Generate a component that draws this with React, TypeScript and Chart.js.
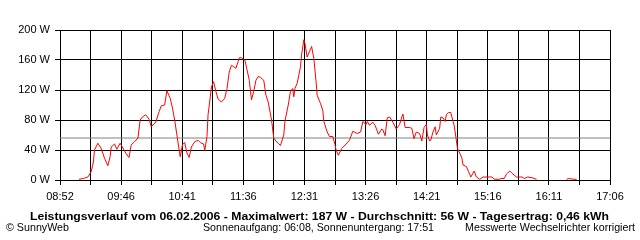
import React, { useEffect, useRef } from "react";
import { Chart, registerables } from "chart.js";

Chart.register(...registerables);

// X axis tick labels (every second grid line)
const tickLabels = ["08:52", "09:46", "10:41", "11:36", "12:31", "13:26", "14:21", "15:16", "16:11", "17:06"];
const yTickValues = [0, 40, 80, 120, 160, 200];

// Measurement times (HH:MM) and power in W
const times = [
  "09:09", "09:13", "09:17", "09:20", "09:22", "09:23", "09:26", "09:29", "09:32", "09:35",
  "09:37", "09:38", "09:41", "09:43", "09:46", "09:48", "09:51", "09:54", "09:56", "09:59",
  "10:02", "10:04", "10:06", "10:09", "10:12", "10:14", "10:18", "10:21", "10:23", "10:26",
  "10:28", "10:31", "10:33", "10:35", "10:37", "10:39", "10:40", "10:42", "10:44", "10:46",
  "10:48", "10:50", "10:53", "10:56", "10:58", "11:01", "11:02", "11:04", "11:05", "11:07",
  "11:08", "11:10", "11:12", "11:14", "11:17", "11:20", "11:22", "11:24", "11:26", "11:28",
  "11:30", "11:32", "11:33", "11:35", "11:38", "11:40", "11:42", "11:44", "11:46", "11:48",
  "11:50", "11:52", "11:55", "11:57", "11:59", "12:02", "12:04", "12:06", "12:08", "12:10",
  "12:13", "12:14", "12:17", "12:19", "12:21", "12:22", "12:23", "12:25", "12:26", "12:28",
  "12:29", "12:31", "12:32", "12:34", "12:36", "12:38", "12:40", "12:42", "12:43", "12:46",
  "12:48", "12:49", "12:52", "12:54", "12:57", "12:59", "13:00", "13:02", "13:05", "13:09",
  "13:12", "13:15", "13:19", "13:22", "13:24", "13:27", "13:28", "13:30", "13:33", "13:35",
  "13:38", "13:41", "13:42", "13:44", "13:46", "13:48", "13:51", "13:54", "13:57", "13:59",
  "14:00", "14:02", "14:06", "14:08", "14:10", "14:12", "14:15", "14:17", "14:19", "14:21",
  "14:22", "14:24", "14:25", "14:27", "14:29", "14:30", "14:33", "14:34", "14:36", "14:38",
  "14:39", "14:41", "14:43", "14:45", "14:46", "14:48", "14:49", "14:51", "14:53", "14:54",
  "14:57", "14:59", "15:01", "15:04", "15:06", "15:09", "15:12", "15:20", "15:22", "15:27",
  "15:28", "15:31", "15:33", "15:36", "15:38", "15:42", "15:47", "15:49", "15:52", "15:56",
  "16:00", "16:10", "16:27", "16:29", "16:33", "16:36",
];
const watts: (number | null)[] = [
  1, 2, 4, 11, 24, 40, 49, 42, 29, 19,
  31, 44, 48, 41, 49, 44, 36, 30, 47, 51,
  56, 80, 84, 87, 81, 71, 77, 91, 99, 100,
  119, 109, 96, 80, 60, 40, 31, 47, 50, 36,
  30, 44, 51, 53, 50, 48, 39, 58, 87, 111,
  124, 131, 118, 108, 104, 109, 122, 144, 153, 151,
  149, 158, 163, 163, 160, 147, 133, 107, 118, 133,
  138, 137, 133, 113, 104, 80, 56, 52, 49, 46,
  60, 78, 100, 118, 122, 111, 122, 129, 136, 151,
  167, 187, 182, 164, 171, 178, 162, 131, 113, 102,
  93, 78, 64, 58, 58, 47, 40, 33, 42, 48,
  53, 65, 62, 64, 78, 74, 78, 73, 77, 73,
  61, 68, 67, 59, 83, 84, 77, 68, 74, 84,
  88, 70, 70, 69, 55, 64, 62, 52, 70, 74,
  60, 52, 53, 64, 71, 60, 69, 84, 83, 78,
  87, 90, 90, 78, 73, 53, 42, 36, 29, 20,
  18, 11, 4, 12, 4, 1, 4, 4, 1, 1,
  2, 2, 8, 12, 9, 4, 4, 2, 4, 3,
  1, null, 1, 2, 1, 1,
];
const averageW = 56;

const titleText = "Leistungsverlauf vom 06.02.2006 - Maximalwert: 187 W - Durchschnitt: 56 W - Tagesertrag: 0,46 kWh";
const footerLeft = "\u00A9 SunnyWeb";
const footerMid = "Sonnenaufgang: 06:08, Sonnenuntergang: 17:51";
const footerRight = "Messwerte Wechselrichter korrigiert";

const toMin = (t: string) => {
  const [h, m] = t.split(":").map(Number);
  return h * 60 + m;
};

const FONT = "'Liberation Sans', Arial, sans-serif";

export default function App() {
  const ref = useRef<HTMLCanvasElement | null>(null);

  useEffect(() => {
    if (!ref.current) return;
    const xMin = toMin(tickLabels[0]);
    const xMax = toMin(tickLabels[tickLabels.length - 1]);
    const nGrid = (tickLabels.length - 1) * 2;
    const gridVals = Array.from({ length: nGrid + 1 }, (_, i) => xMin + (i * (xMax - xMin)) / nGrid);

    const fitText = (
      ctx: CanvasRenderingContext2D,
      text: string,
      x0: number,
      x1: number,
      y: number,
      font: string
    ) => {
      ctx.save();
      ctx.font = font;
      ctx.textBaseline = "middle";
      ctx.textAlign = "left";
      ctx.fillStyle = "#000";
      const w = ctx.measureText(text).width;
      const s = (x1 - x0) / w;
      ctx.translate(x0, y);
      ctx.scale(s, 1);
      ctx.fillText(text, 0, 0);
      ctx.restore();
    };

    const textPlugin = {
      id: "texts",
      afterDraw(chart: any) {
        const ctx = chart.ctx as CanvasRenderingContext2D;
        fitText(ctx, titleText, 30, 609, 217, `bold 11px ${FONT}`);
        fitText(ctx, footerLeft, 6, 69, 228, `11px ${FONT}`);
        fitText(ctx, footerMid, 203, 434, 228, `11px ${FONT}`);
        fitText(ctx, footerRight, 465, 635, 228, `11px ${FONT}`);
      },
    };

    const chart = new Chart(ref.current, {
      type: "line",
      data: {
        datasets: [
          {
            data: times.map((t, i) => ({ x: toMin(t), y: watts[i] })) as any,
            borderColor: "#ff0000",
            borderWidth: 1,
            pointRadius: 0,
            tension: 0,
            spanGaps: false,
          },
          {
            data: [
              { x: xMin, y: averageW },
              { x: xMax, y: averageW },
            ],
            borderColor: "#808080",
            borderWidth: 1,
            pointRadius: 0,
          },
        ],
      },
      options: {
        responsive: false,
        animation: false,
        devicePixelRatio: 1,
        layout: { padding: { top: 30, right: 30, left: 0, bottom: 0 } },
        plugins: { legend: { display: false }, tooltip: { enabled: false } },
        scales: {
          x: {
            type: "linear",
            min: xMin,
            max: xMax,
            afterBuildTicks: (scale: any) => {
              scale.ticks = gridVals.map((v) => ({ value: v }));
            },
            afterFit: (scale: any) => {
              scale.height = 60;
            },
            ticks: {
              autoSkip: false,
              maxRotation: 0,
              padding: 5,
              color: "#000",
              font: { family: FONT, size: 11 },
              callback: (_v: any, index: number) => (index % 2 === 0 ? tickLabels[index / 2] : ""),
            },
            grid: { color: "#000", lineWidth: 1, tickLength: 5, drawTicks: true },
            border: { color: "#000", width: 1 },
          },
          y: {
            min: 0,
            max: 200,
            afterBuildTicks: (scale: any) => {
              scale.ticks = yTickValues.map((v) => ({ value: v }));
            },
            afterFit: (scale: any) => {
              scale.width = 60;
            },
            ticks: {
              padding: 5,
              color: "#000",
              font: { family: FONT, size: 11 },
              callback: (v: any) => `${v} W`,
            },
            grid: { color: "#000", lineWidth: 1, tickLength: 5, drawTicks: true },
            border: { color: "#000", width: 1 },
          },
        },
      },
      plugins: [textPlugin],
    });
    return () => chart.destroy();
  }, []);

  return (
    <div style={{ position: "absolute", left: 0, top: 0, width: 640, height: 240, background: "#fff" }}>
      <canvas ref={ref} width={640} height={240} style={{ width: 640, height: 240, display: "block" }} />
    </div>
  );
}
